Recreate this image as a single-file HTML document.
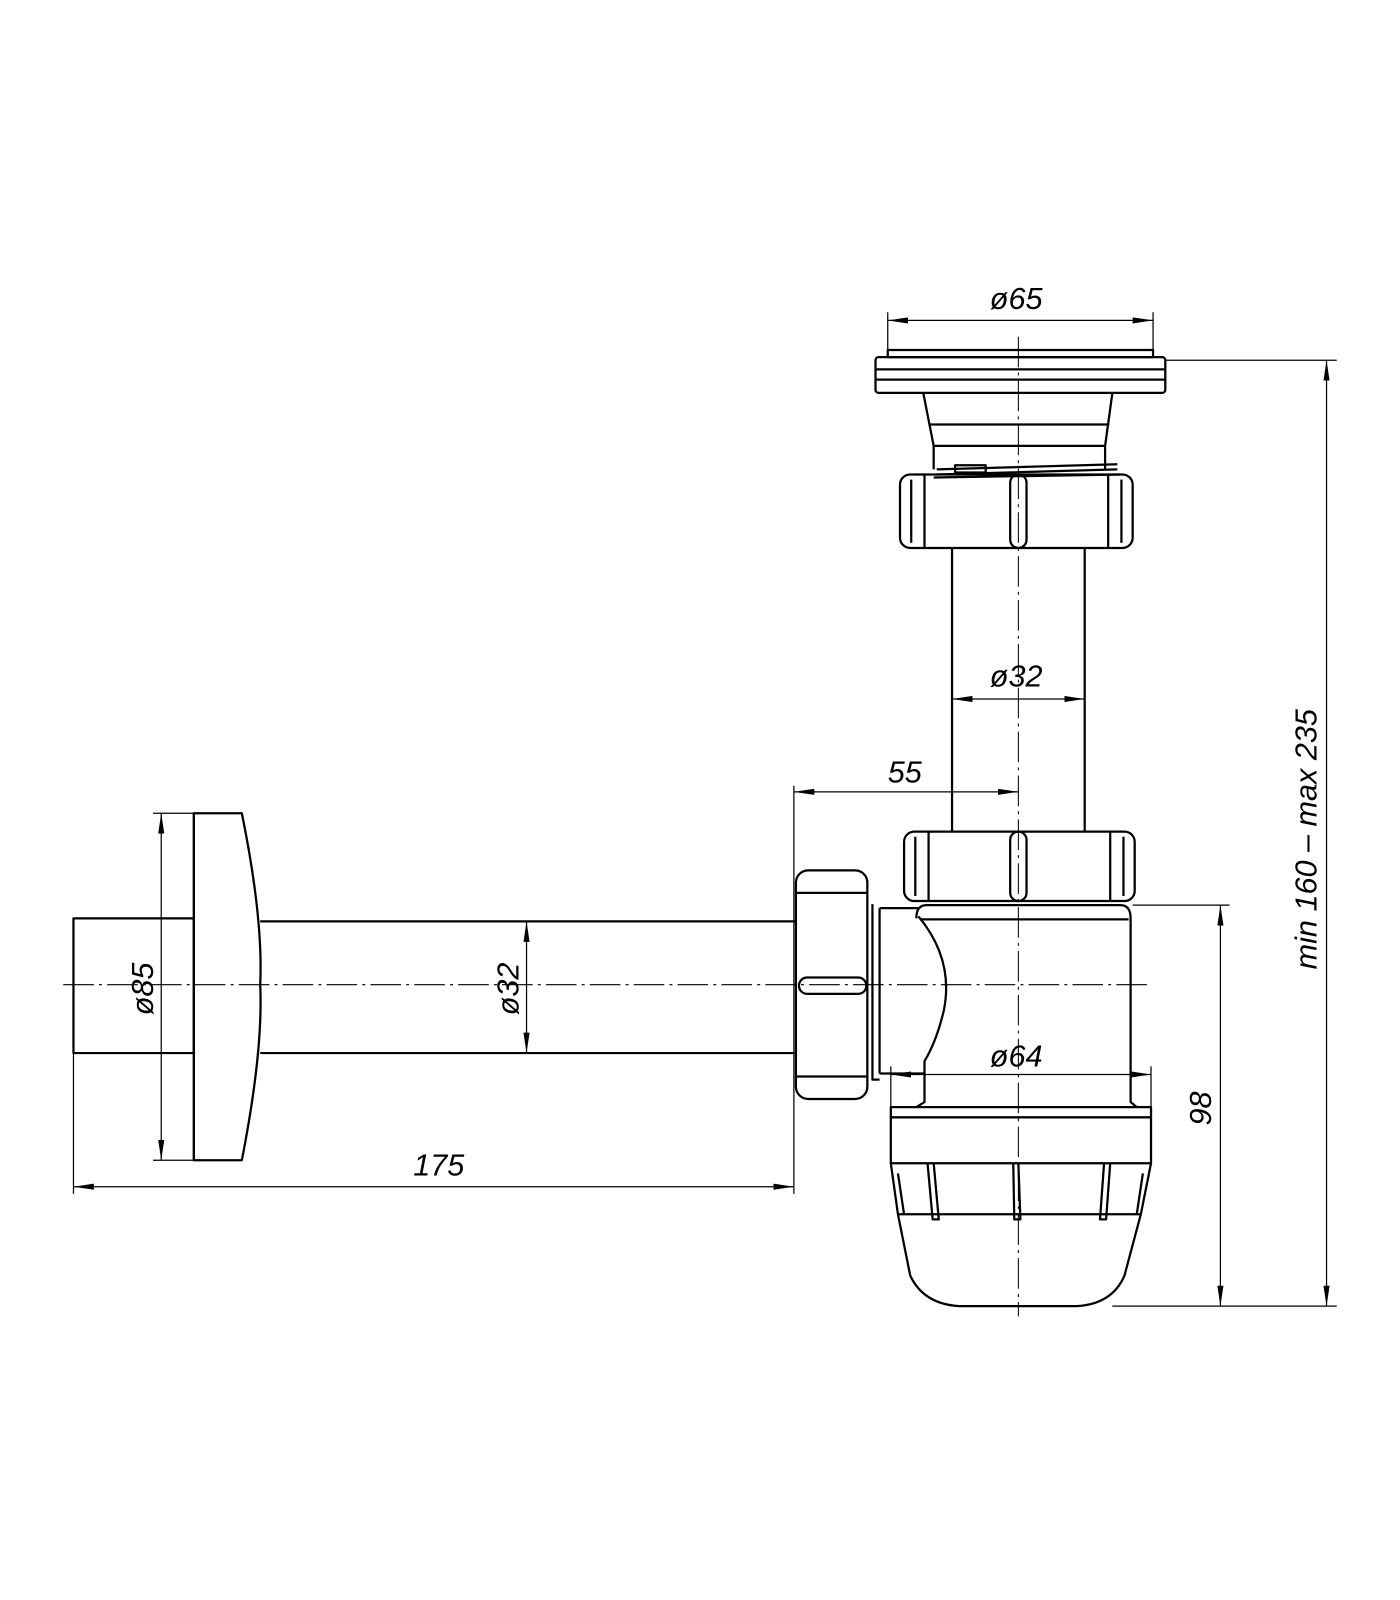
<!DOCTYPE html>
<html><head><style>html,body{margin:0;padding:0;background:#fff}svg{display:block}</style></head>
<body>
<svg width="1400" height="1600" viewBox="0 0 1372 1568" xmlns="http://www.w3.org/2000/svg">
<defs>
<marker id="a" viewBox="0 0 20 6" refX="20" refY="3" markerWidth="20" markerHeight="6" orient="auto-start-reverse" markerUnits="userSpaceOnUse"><path d="M0,0 L20,3 L0,6 z" fill="#000"/></marker>
</defs>
<g fill="none" stroke="#000" stroke-width="2.2" stroke-linejoin="round">
<!-- top flange -->
<rect x="870" y="343" width="260" height="7"/>
<rect x="858" y="350" width="284" height="35" rx="3"/>
<line x1="858" y1="362" x2="1142" y2="362"/><line x1="858" y1="372" x2="1142" y2="372"/>
<path d="M905,386 L915,437 L915,460 M1090,386 L1083,437 L1083,460"/>
<line x1="910" y1="416" x2="1087" y2="416"/><line x1="915" y1="437" x2="1083" y2="437"/>
<path d="M918,460 L1095,455 M918,465 L1095,460 M915,468 L1098,465"/>
<rect x="936" y="456" width="30" height="7"/>
<!-- nut 1 -->
<rect x="882" y="465" width="228" height="72" rx="10"/>
<line x1="906" y1="465" x2="906" y2="537"/><line x1="1086" y1="465" x2="1086" y2="537"/>
<line x1="893" y1="470" x2="893" y2="532"/><line x1="1099" y1="470" x2="1099" y2="532"/>
<rect x="990" y="465" width="16" height="72" rx="8"/>
<!-- vertical tube -->
<line x1="933" y1="537" x2="933" y2="815"/><line x1="1063" y1="537" x2="1063" y2="815"/>
<!-- nut 2 -->
<rect x="886" y="815" width="226" height="68" rx="10"/>
<line x1="910" y1="815" x2="910" y2="883"/><line x1="1088" y1="815" x2="1088" y2="883"/>
<line x1="897" y1="820" x2="897" y2="878"/><line x1="1101" y1="820" x2="1101" y2="878"/>
<rect x="990" y="815" width="16" height="68" rx="8"/>
<!-- body -->
<path d="M908,887 L1098,887 Q1108,887 1108,900 L1108,1080 L1114,1085 M898,900 Q898,887 908,887 M900,898 Q935,940 925,990 Q918,1020 906,1040 L906,1080 L898,1085"/>
<line x1="902" y1="901" x2="1106" y2="901"/>
<path d="M862,890 L900,890 M862,1052 L906,1052 M862,890 L862,1052 M855,886 L855,1058 L862,1058"/>
<!-- bottom ring -->
<rect x="873" y="1085" width="255" height="10"/>
<rect x="873" y="1095" width="255" height="45"/>
<path d="M873,1140 L880,1190 L892,1250 Q905,1278 940,1280 L1055,1280 Q1090,1278 1102,1250 L1118,1190 L1128,1140"/>
<line x1="880" y1="1190" x2="1118" y2="1190"/>
<path d="M915,1140 L920,1195 L914,1195 L909,1140 M998,1140 L1000,1195 L994,1195 L993,1140 M1082,1140 L1078,1195 L1084,1195 L1088,1140"/>
<path d="M880,1150 L886,1190 M1120,1150 L1114,1190"/>
<!-- left nut -->
<rect x="780" y="853" width="70" height="224" rx="12"/>
<line x1="780" y1="875" x2="850" y2="875"/><line x1="780" y1="1055" x2="850" y2="1055"/>
<rect x="783" y="958" width="66" height="16" rx="8"/>
<!-- horizontal tube -->
<line x1="255" y1="903" x2="780" y2="903"/><line x1="255" y1="1032" x2="780" y2="1032"/>
<!-- wall flange -->
<path d="M190,797 L237,797 Q258,900 255,965 Q258,1030 237,1137 L190,1137 Z"/>
<line x1="190" y1="797" x2="190" y2="1137"/>
<rect x="72" y="900" width="118" height="132"/>
</g>
<!-- centre lines -->
<g stroke="#000" stroke-width="1" stroke-dasharray="30,5,3,5" fill="none">
<line x1="998" y1="330" x2="998" y2="1290"/>
<line x1="62" y1="965" x2="1125" y2="965"/>
</g>
<!-- dimensions -->
<g stroke="#000" stroke-width="1.2" fill="none">
<line x1="158" y1="797" x2="158" y2="1137" marker-start="url(#a)" marker-end="url(#a)"/>
<line x1="150" y1="797" x2="190" y2="797"/><line x1="150" y1="1137" x2="190" y2="1137"/>
<line x1="516" y1="903" x2="516" y2="1032" marker-start="url(#a)" marker-end="url(#a)"/>
<line x1="72" y1="1032" x2="72" y2="1170"/><line x1="778" y1="770" x2="778" y2="1170"/>
<line x1="72" y1="1163" x2="778" y2="1163" marker-start="url(#a)" marker-end="url(#a)"/>
<line x1="778" y1="776" x2="998" y2="776" marker-start="url(#a)" marker-end="url(#a)"/>
<line x1="933" y1="685" x2="1063" y2="685" marker-start="url(#a)" marker-end="url(#a)"/>
<line x1="870" y1="306" x2="870" y2="343"/><line x1="1130" y1="306" x2="1130" y2="343"/>
<line x1="870" y1="314" x2="1130" y2="314" marker-start="url(#a)" marker-end="url(#a)"/>
<line x1="873" y1="1045" x2="873" y2="1085"/><line x1="1128" y1="1045" x2="1128" y2="1085"/>
<line x1="873" y1="1053" x2="1128" y2="1053" marker-start="url(#a)" marker-end="url(#a)"/>
<line x1="1110" y1="887" x2="1205" y2="887"/><line x1="1090" y1="1280" x2="1310" y2="1280"/>
<line x1="1196" y1="887" x2="1196" y2="1280" marker-start="url(#a)" marker-end="url(#a)"/>
<line x1="1142" y1="353" x2="1310" y2="353"/>
<line x1="1300" y1="353" x2="1300" y2="1280" marker-start="url(#a)" marker-end="url(#a)"/>
</g>
<g font-family="Liberation Sans, sans-serif" font-style="italic" font-size="30" fill="#000">
<text x="970" y="303">ø65</text>
<text x="970" y="673">ø32</text>
<text x="870" y="767">55</text>
<text x="970" y="1045">ø64</text>
<text x="405" y="1152">175</text>
<text transform="translate(150,995) rotate(-90)">ø85</text>
<text transform="translate(508,995) rotate(-90)">ø32</text>
<text transform="translate(1187,1103) rotate(-90)">98</text>
<text transform="translate(1290,950) rotate(-90)">min 160 – max 235</text>
</g>
</svg>
</body></html>
